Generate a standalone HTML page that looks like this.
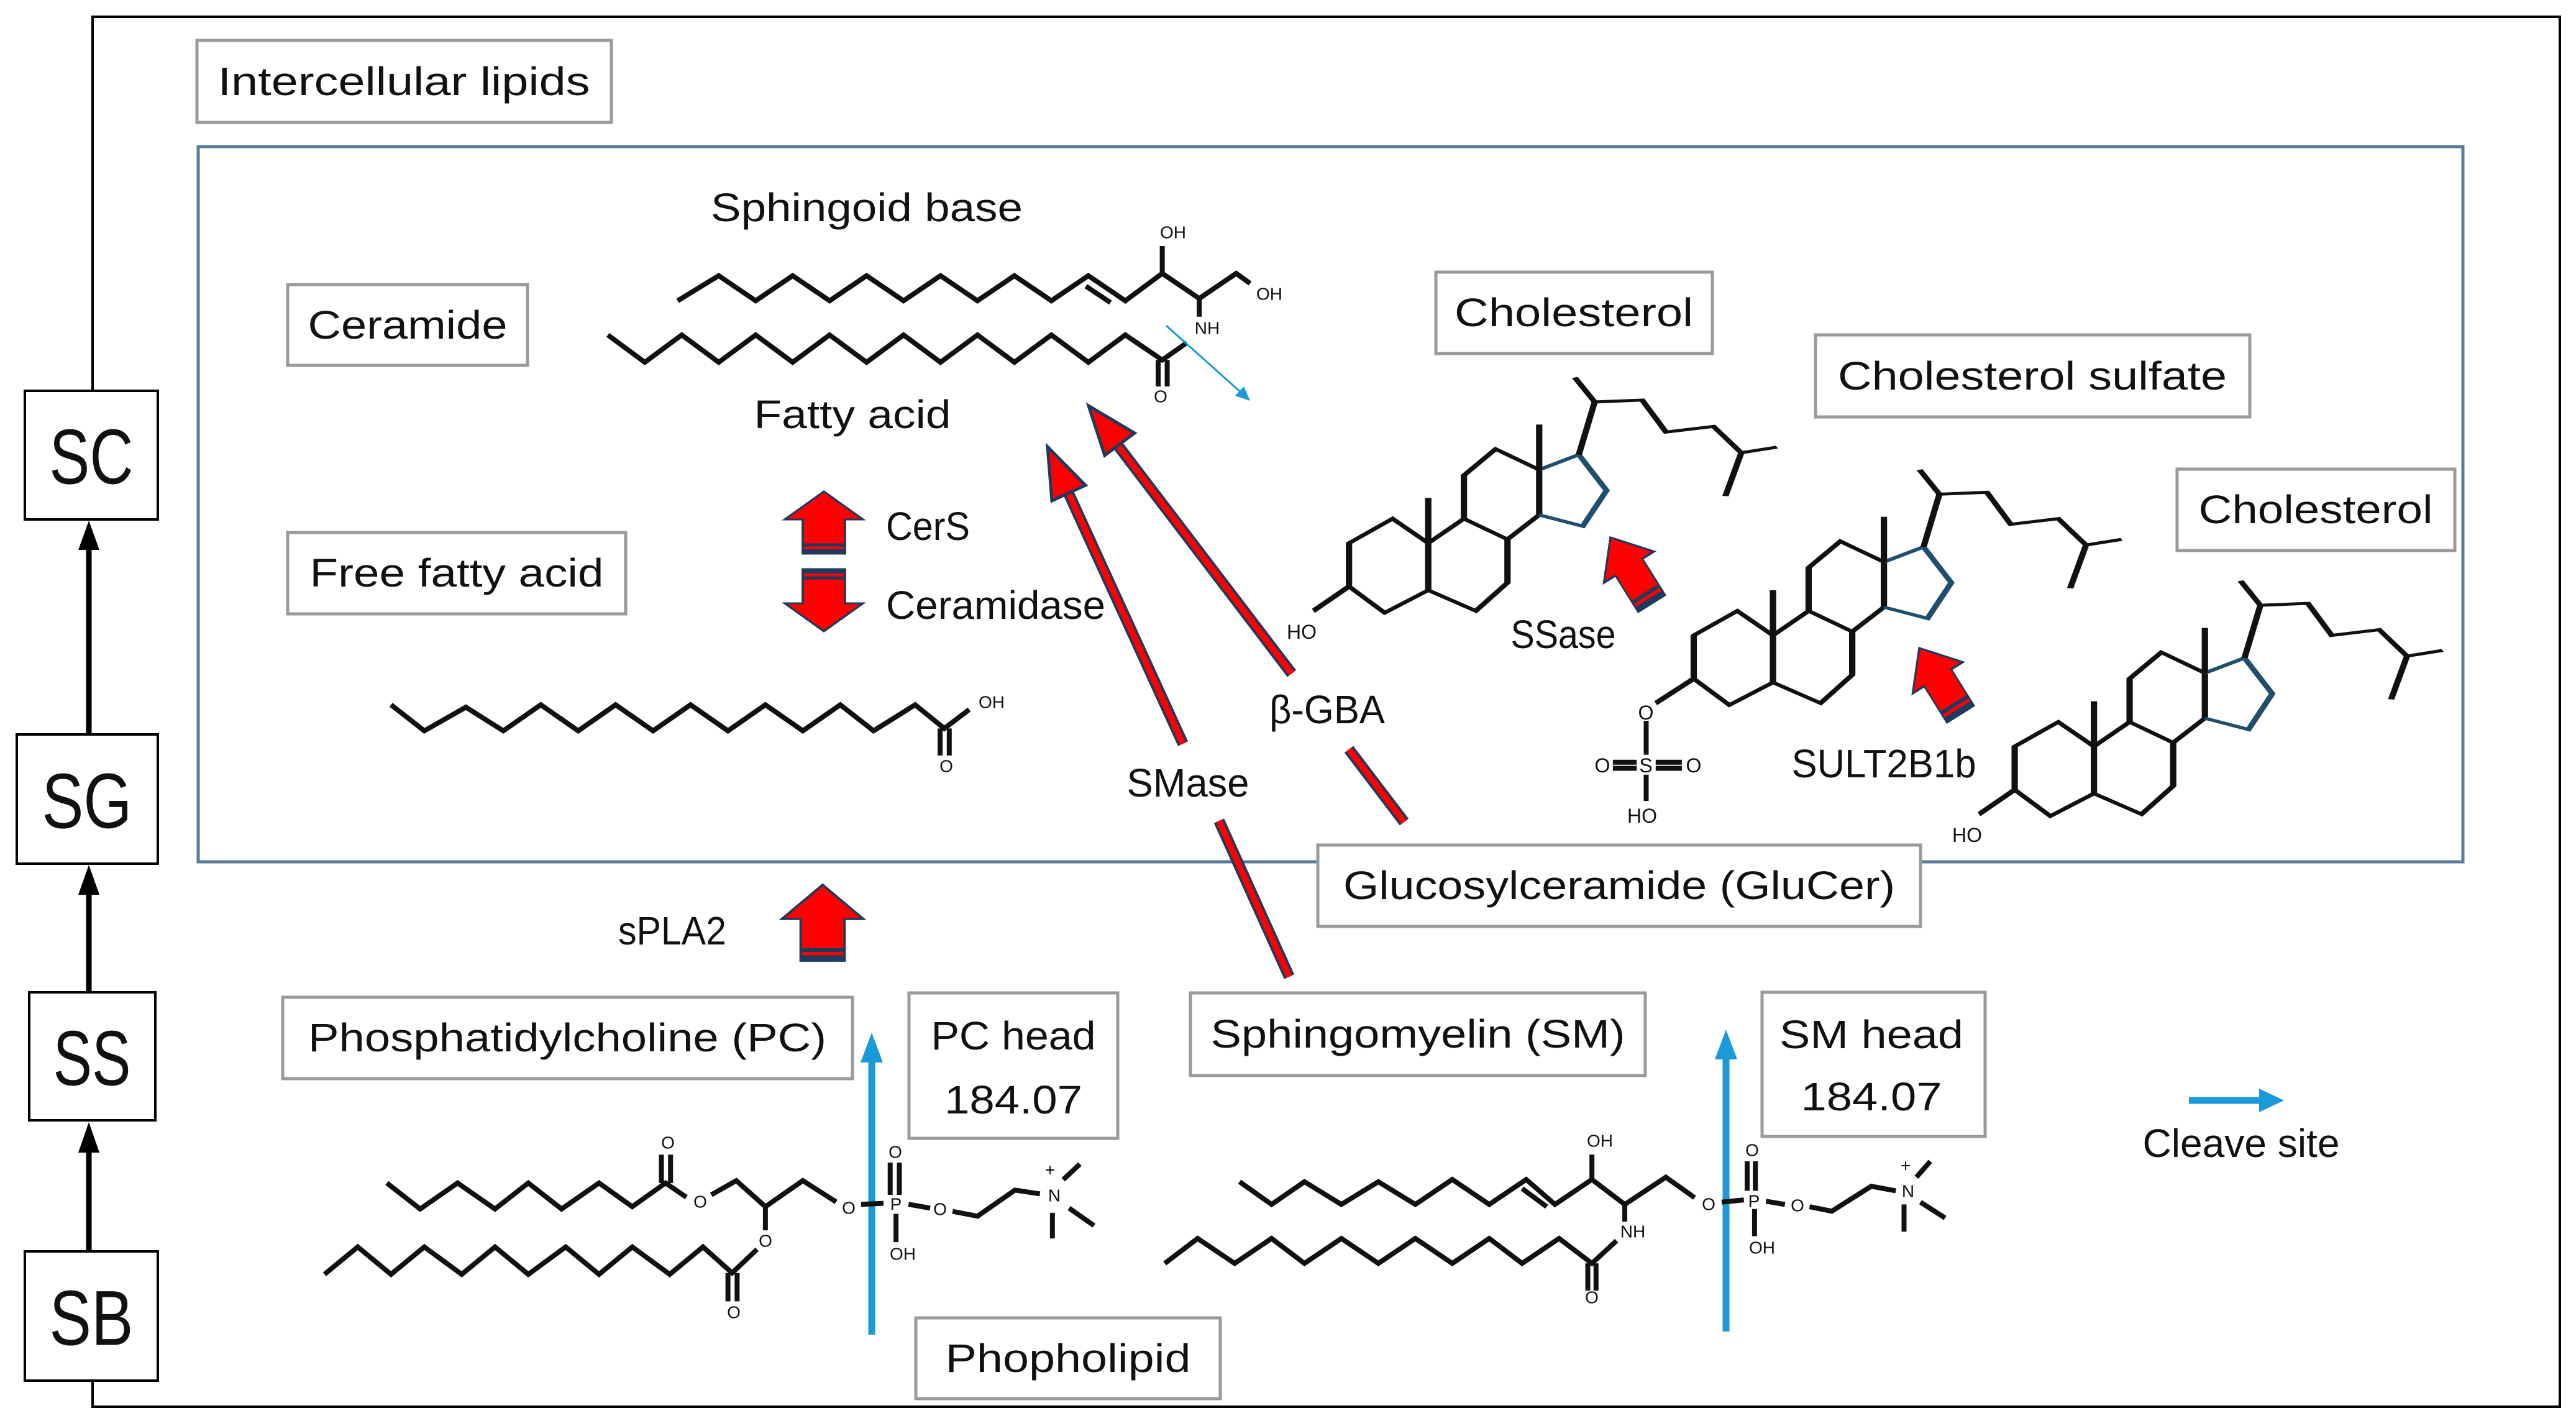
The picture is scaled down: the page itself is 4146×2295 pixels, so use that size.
<!DOCTYPE html>
<html><head><meta charset="utf-8"><style>
html,body{margin:0;padding:0;background:#fff}
svg{display:block}
text{font-family:"Liberation Sans",sans-serif;fill:#111}
.lb{font-size:64px;dominant-baseline:central;text-anchor:middle}
.ch{font-size:28px;dominant-baseline:central;text-anchor:middle}
.m{fill:none;stroke:#111;stroke-width:8;stroke-linejoin:miter}
.m *{vector-effect:non-scaling-stroke}
.bx{fill:#fff;stroke:#9a9a9a;stroke-width:5}
.kb{fill:#fff;stroke:#000;stroke-width:4}
</style></head><body>
<svg width="4146" height="2295" viewBox="0 0 4146 2295" xmlns="http://www.w3.org/2000/svg">
<rect width="4146" height="2295" fill="#fff"/>
<path d="M149,629 V27 H4120 V2264 H149 V2222" fill="none" stroke="#000" stroke-width="4"/>
<rect x="319" y="236" width="3645" height="1151" fill="none" stroke="#5b7c96" stroke-width="5"/>

<g stroke="#000" stroke-width="9" fill="none">
<line x1="143" y1="1182" x2="143" y2="880"/>
<line x1="143" y1="1597" x2="143" y2="1435"/>
<line x1="143" y1="2014" x2="143" y2="1850"/>
</g>
<g fill="#000">
<polygon points="143,838 126,885 160,885"/>
<polygon points="143,1392 126,1440 160,1440"/>
<polygon points="143,1806 126,1855 160,1855"/>
</g>
<rect class="kb" x="40" y="629" width="214" height="207"/>
<rect class="kb" x="27" y="1182" width="227" height="208"/>
<rect class="kb" x="47" y="1597" width="203" height="206"/>
<rect class="kb" x="40" y="2014" width="214" height="208"/>
<text class="lb" style="font-size:125px" x="147" y="736" textLength="135" lengthAdjust="spacingAndGlyphs">SC</text>
<text class="lb" style="font-size:125px" x="140" y="1290" textLength="145" lengthAdjust="spacingAndGlyphs">SG</text>
<text class="lb" style="font-size:125px" x="148" y="1704" textLength="125" lengthAdjust="spacingAndGlyphs">SS</text>
<text class="lb" style="font-size:125px" x="147" y="2122" textLength="135" lengthAdjust="spacingAndGlyphs">SB</text>

<rect class="bx" x="317" y="65" width="667" height="132"/>
<text class="lb" x="650" y="131" textLength="599" lengthAdjust="spacingAndGlyphs">Intercellular lipids</text>
<rect class="bx" x="463" y="458" width="386" height="130"/>
<text class="lb" x="656" y="523" textLength="321" lengthAdjust="spacingAndGlyphs">Ceramide</text>
<rect class="bx" x="463" y="857" width="544" height="131"/>
<text class="lb" x="735" y="922" textLength="473" lengthAdjust="spacingAndGlyphs">Free fatty acid</text>
<text class="lb" x="1395" y="334" textLength="502" lengthAdjust="spacingAndGlyphs">Sphingoid base</text>
<text class="lb" x="1372" y="667" textLength="317" lengthAdjust="spacingAndGlyphs">Fatty acid</text>
<text class="lb" style="text-anchor:start" x="1426" y="847" textLength="135" lengthAdjust="spacingAndGlyphs">CerS</text>
<text class="lb" style="text-anchor:start" x="1426" y="974" textLength="353" lengthAdjust="spacingAndGlyphs">Ceramidase</text>

<rect class="bx" x="2311" y="438" width="445" height="131"/>
<text class="lb" x="2533" y="503" textLength="384" lengthAdjust="spacingAndGlyphs">Cholesterol</text>
<rect class="bx" x="2922" y="539" width="699" height="132"/>
<text class="lb" x="3271" y="605" textLength="626" lengthAdjust="spacingAndGlyphs">Cholesterol sulfate</text>
<rect class="bx" x="3504" y="755" width="447" height="131"/>
<text class="lb" x="3727" y="820" textLength="377" lengthAdjust="spacingAndGlyphs">Cholesterol</text>
<text class="lb" x="2516" y="1021" textLength="169" lengthAdjust="spacingAndGlyphs">SSase</text>
<text class="lb" x="3032" y="1229" textLength="297" lengthAdjust="spacingAndGlyphs">SULT2B1b</text>
<text class="lb" x="2136" y="1142" textLength="186" lengthAdjust="spacingAndGlyphs">β-GBA</text>
<text class="lb" x="1912" y="1260" textLength="197" lengthAdjust="spacingAndGlyphs">SMase</text>
<text class="lb" x="1082" y="1498" textLength="174" lengthAdjust="spacingAndGlyphs">sPLA2</text>

<rect class="bx" x="2121" y="1360" width="970" height="131"/>
<text class="lb" x="2606" y="1425" textLength="888" lengthAdjust="spacingAndGlyphs">Glucosylceramide (GluCer)</text>
<rect class="bx" x="455" y="1605" width="917" height="131"/>
<text class="lb" x="913" y="1670" textLength="834" lengthAdjust="spacingAndGlyphs">Phosphatidylcholine (PC)</text>
<rect class="bx" x="1463" y="1598" width="336" height="234"/>
<text class="lb" x="1631" y="1667" textLength="265" lengthAdjust="spacingAndGlyphs">PC head</text>
<text class="lb" x="1631" y="1770" textLength="222" lengthAdjust="spacingAndGlyphs">184.07</text>
<rect class="bx" x="1916" y="1598" width="732" height="133"/>
<text class="lb" x="2282" y="1664" textLength="667" lengthAdjust="spacingAndGlyphs">Sphingomyelin (SM)</text>
<rect class="bx" x="2836" y="1597" width="359" height="232"/>
<text class="lb" x="3012" y="1665" textLength="296" lengthAdjust="spacingAndGlyphs">SM head</text>
<text class="lb" x="3012" y="1765" textLength="227" lengthAdjust="spacingAndGlyphs">184.07</text>
<rect class="bx" x="1474" y="2121" width="490" height="130"/>
<text class="lb" x="1719" y="2186" textLength="395" lengthAdjust="spacingAndGlyphs">Phopholipid</text>
<text class="lb" x="3607" y="1840" textLength="317" lengthAdjust="spacingAndGlyphs">Cleave site</text>

<g stroke="#1a9ad6" stroke-width="11" fill="#1a9ad6">
<line x1="1403" y1="2148" x2="1403" y2="1700"/>
<polygon points="1403,1662 1385,1710 1421,1710" stroke="none"/>
<line x1="2778" y1="2143" x2="2778" y2="1695"/>
<polygon points="2778,1657 2760,1705 2796,1705" stroke="none"/>
<line x1="3523" y1="1771" x2="3640" y2="1771"/>
<polygon points="3676,1771 3636,1752 3636,1790" stroke="none"/>
</g>

<g stroke-linecap="butt">
<g stroke="#1f3a5f" stroke-width="18">
<line x1="1800" y1="718" x2="2079" y2="1084"/><line x1="2171" y1="1206" x2="2260" y2="1323"/>
<line x1="1719" y1="792" x2="1904" y2="1197"/><line x1="1962" y1="1321" x2="2075" y2="1572"/>
</g>
<g stroke="#ff0000" stroke-width="10">
<line x1="1800" y1="718" x2="2079" y2="1084"/><line x1="2171" y1="1206" x2="2260" y2="1323"/>
<line x1="1719" y1="792" x2="1904" y2="1197"/><line x1="1962" y1="1321" x2="2075" y2="1572"/>
</g>
<polygon points="1752,653 1826,697 1778,733" fill="#ff0000" stroke="#1f3a5f" stroke-width="5"/>
<polygon points="1686,719 1747,781 1693,806" fill="#ff0000" stroke="#1f3a5f" stroke-width="5"/>
</g>

<defs>
<g id="ba">
<polygon points="0,-50 50,-5 27,-5 27,50 -27,50 -27,-5 -50,-5" fill="#ff0000" stroke="#1f3a5f" stroke-width="3"/>
<line x1="-27" y1="36" x2="27" y2="36" stroke="#1f3a5f" stroke-width="5"/>
<line x1="-27" y1="46" x2="27" y2="46" stroke="#1f3a5f" stroke-width="6"/>
</g>
</defs>
<use href="#ba" transform="translate(1326,841) scale(1.26,1)"/>
<use href="#ba" transform="translate(1326,966) rotate(180) scale(1.26,1)"/>
<use href="#ba" transform="translate(1324,1485) scale(1.31,1.22)"/>
<use href="#ba" transform="translate(2625,918) rotate(-32) scale(0.95,1.25)"/>
<use href="#ba" transform="translate(3122,1096) rotate(-32) scale(0.95,1.25)"/>

<g class="m" transform="scale(1.322,0.7334)">
<polyline points="825,660 875,605 920,660 965,605 1010,660 1055,605 1100,660 1145,605 1190,660 1235,605 1280,660 1325,605 1370,660 1415,600 1460,655 1505,600 1522,622"/>
<line x1="1322" y1="628" x2="1352" y2="664"/>
<line x1="1415" y1="600" x2="1415" y2="540"/>
<line x1="1460" y1="655" x2="1460" y2="695"/>
<polyline points="740,735 785,795 830,735 875,795 920,735 965,795 1010,735 1055,795 1100,735 1145,795 1190,735 1235,795 1280,735 1325,795 1370,735 1415,790 1445,752"/>
<line x1="1410" y1="790" x2="1410" y2="848"/><line x1="1421" y1="790" x2="1421" y2="848"/>
</g>
<line x1="1877" y1="524" x2="2000" y2="634" stroke="#1a9ad6" stroke-width="3"/>
<polygon points="2012,645 1988,637 2002,622" fill="#1a9ad6"/>
<text class="ch" x="1888" y="374">OH</text>
<text class="ch" x="2043" y="473">OH</text>
<text class="ch" x="1943" y="528">NH</text>
<text class="ch" x="1868" y="638">O</text>

<g class="m" transform="translate(0,1100) scale(1.339,0.762)">
<polyline points="470,45 510,100 560,50 605,100 650,45 695,100 740,45 785,100 830,45 875,100 920,45 965,100 1010,45 1050,100 1100,45 1135,95 1165,55"/>
<line x1="1130" y1="95" x2="1130" y2="152"/><line x1="1141" y1="95" x2="1141" y2="152"/>
</g>
<text class="ch" x="1596" y="1130">OH</text>
<text class="ch" x="1523" y="1233">O</text>

<g class="m" transform="translate(0,1100) scale(1.339,0.762)">
<polyline points="465,1055 505,1110 550,1055 595,1110 635,1055 675,1110 720,1055 760,1105 800,1055 825,1085"/>
<line x1="795" y1="1055" x2="795" y2="995"/><line x1="806" y1="1055" x2="806" y2="995"/>
<polyline points="855,1080 885,1050 920,1105 965,1050 1005,1095"/>
<line x1="920" y1="1105" x2="920" y2="1155"/>
<line x1="1035" y1="1100" x2="1062" y2="1098"/>
<line x1="1070" y1="1080" x2="1070" y2="1012"/><line x1="1081" y1="1080" x2="1081" y2="1012"/>
<line x1="1077" y1="1120" x2="1077" y2="1180"/>
<line x1="1092" y1="1100" x2="1118" y2="1108"/>
<polyline points="1145,1115 1175,1125 1220,1070 1250,1078"/>
<line x1="1278" y1="1048" x2="1298" y2="1015"/>
<line x1="1265" y1="1118" x2="1265" y2="1172"/>
<line x1="1285" y1="1108" x2="1315" y2="1145"/>
<polyline points="390,1248 430,1190 470,1248 510,1190 555,1248 595,1190 635,1248 680,1190 720,1248 760,1190 805,1248 845,1190 880,1245 910,1195"/>
<line x1="875" y1="1245" x2="875" y2="1305"/><line x1="886" y1="1245" x2="886" y2="1305"/>
</g>
<text class="ch" x="1075" y="1839">O</text>
<text class="ch" x="1127" y="1934">O</text>
<text class="ch" x="1366" y="1944">O</text>
<text class="ch" x="1442" y="1938">P</text>
<text class="ch" x="1441" y="1854">O</text>
<text class="ch" x="1453" y="2018">OH</text>
<text class="ch" x="1513" y="1946">O</text>
<text class="ch" x="1697" y="1924">N</text>
<text class="ch" x="1690" y="1883">+</text>
<text class="ch" x="1232" y="1997">O</text>
<text class="ch" x="1181" y="2112">O</text>

<g class="m" transform="translate(2073,1150) scale(1.322,0.730)">
<polyline points="-59,1030 -20,1080 20,1030 65,1080 110,1030 155,1080 200,1025 245,1080 290,1025 325,1080 370,1025 410,1080 460,1020 495,1065"/>
<line x1="285" y1="1045" x2="315" y2="1085"/>
<line x1="370" y1="1025" x2="370" y2="970"/>
<line x1="410" y1="1080" x2="410" y2="1118"/>
<line x1="528" y1="1075" x2="555" y2="1070"/>
<line x1="559" y1="1050" x2="559" y2="985"/><line x1="569" y1="1050" x2="569" y2="985"/>
<line x1="568" y1="1090" x2="568" y2="1150"/>
<line x1="582" y1="1073" x2="605" y2="1080"/>
<polyline points="635,1085 662,1095 710,1040 740,1050"/>
<line x1="765" y1="1020" x2="782" y2="985"/>
<line x1="750" y1="1080" x2="750" y2="1140"/>
<line x1="770" y1="1075" x2="800" y2="1110"/>
<polyline points="-150,1210 -110,1155 -65,1210 -20,1155 20,1210 65,1155 110,1210 155,1155 200,1210 245,1155 285,1210 330,1155 370,1210 400,1160"/>
<line x1="365" y1="1210" x2="365" y2="1270"/><line x1="375" y1="1210" x2="375" y2="1270"/>
</g>
<text class="ch" x="2575" y="1836">OH</text>
<text class="ch" x="2628" y="1982">NH</text>
<text class="ch" x="2562" y="2088">O</text>
<text class="ch" x="2750" y="1938">O</text>
<text class="ch" x="2823" y="1933">P</text>
<text class="ch" x="2820" y="1851">O</text>
<text class="ch" x="2836" y="2008">OH</text>
<text class="ch" x="2893" y="1940">O</text>
<text class="ch" x="3071" y="1917">N</text>
<text class="ch" x="3067" y="1876">+</text>

<defs>
<g id="chol">
<polygon points="95,700 150,635 195,700 195,825 140,885 95,815"/>
<polyline points="195,700 240,635 295,690 295,805 255,880 195,825"/>
<polyline points="240,635 240,520 280,450 335,505 335,625 295,690"/>
<polyline points="335,505 385,465 420,560 390,655 335,625" stroke="#1f4e6e"/>
<line x1="195" y1="700" x2="195" y2="580"/>
<line x1="335" y1="505" x2="335" y2="385"/>
<polyline points="385,465 405,325 465,320 495,405 555,390 590,460 635,445"/>
<line x1="590" y1="460" x2="570" y2="575"/>
<line x1="405" y1="325" x2="380" y2="260"/>
</g>
</defs>
<g class="m" transform="translate(2050,450) scale(1.2755,0.6059)">
<use href="#chol"/>
<line x1="95" y1="815" x2="50" y2="880"/>
<use href="#chol" transform="translate(435,245)"/>
<line x1="530" y1="1060" x2="482" y2="1125"/>
<line x1="470" y1="1172" x2="470" y2="1262"/>
<line x1="470" y1="1315" x2="470" y2="1385"/>
<line x1="428" y1="1282" x2="458" y2="1282"/><line x1="428" y1="1298" x2="458" y2="1298"/>
<line x1="482" y1="1282" x2="515" y2="1282"/><line x1="482" y1="1298" x2="515" y2="1298"/>
<use href="#chol" transform="translate(840,540)"/>
<line x1="935" y1="1355" x2="890" y2="1420"/>
</g>
<text class="ch" style="font-size:32px" x="2095" y="1017">HO</text>
<text class="ch" style="font-size:32px" x="2649" y="1147">O</text>
<text class="ch" style="font-size:32px" x="2649" y="1232">S</text>
<text class="ch" style="font-size:32px" x="2579" y="1232">O</text>
<text class="ch" style="font-size:32px" x="2726" y="1232">O</text>
<text class="ch" style="font-size:32px" x="2643" y="1313">HO</text>
<text class="ch" style="font-size:32px" x="3166" y="1344">HO</text>
</svg>
</body></html>
